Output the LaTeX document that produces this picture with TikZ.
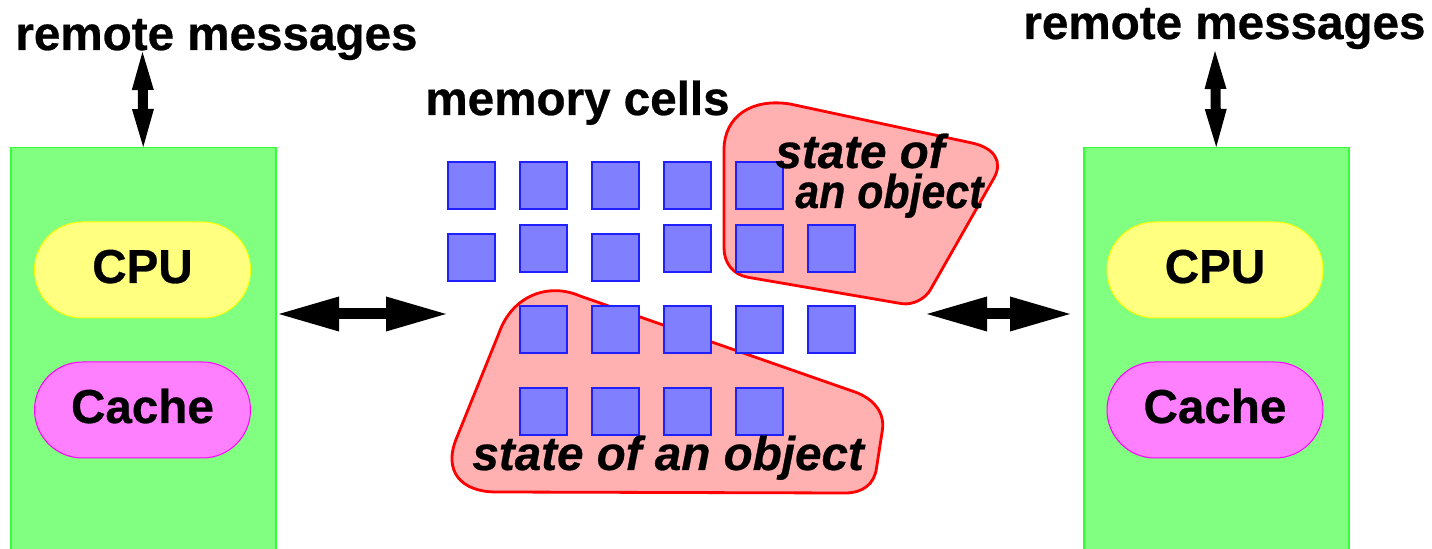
\documentclass[tikz,border=0pt]{standalone}
\usepackage{fontspec}
\setmainfont{Liberation Sans}[BoldFeatures={FakeBold=0.6}, BoldItalicFeatures={FakeBold=0.6}]
\usetikzlibrary{arrows.meta,calc}
\definecolor{boxfill}{HTML}{80FF80}
\definecolor{boxline}{HTML}{33FF33}
\definecolor{cpufill}{HTML}{FFFF80}
\definecolor{cpuline}{HTML}{FFFF00}
\definecolor{cachefill}{HTML}{FF80FF}
\definecolor{cacheline}{HTML}{FF00FF}
\definecolor{cellfill}{HTML}{8080FF}
\definecolor{cellline}{HTML}{2020FF}
\definecolor{blobfill}{HTML}{FFB0B0}
\definecolor{blobline}{HTML}{FF0000}
\begin{document}
\begin{tikzpicture}[x=0.5pt,y=-0.5pt,
  lbl/.style={font=\fontsize{23.8}{28}\selectfont\bfseries, inner sep=0pt, anchor=base west},
  ilbl/.style={lbl, font=\fontsize{23.8}{28}\selectfont\bfseries\itshape},
  procbox/.style={draw=boxline, fill=boxfill, line width=0.75pt, minimum width=132.5pt, minimum height=215pt, anchor=north west, inner sep=0pt},
  pill/.style={rectangle, rounded corners=24pt, minimum width=108pt, minimum height=48pt, line width=0.5pt, inner sep=0pt, text height=17pt, text depth=4pt, font=\fontsize{23.8}{28}\selectfont\bfseries},
  cpu/.style={pill, draw=cpuline, fill=cpufill},
  cache/.style={pill, draw=cacheline, fill=cachefill},
  cell/.style={draw=cellline, fill=cellfill, line width=0.9pt, minimum size=23.5pt, inner sep=0pt},
  blob/.style={draw=blobline, fill=blobfill, line width=1.4pt},
  harrow/.style={line width=5.5pt, {Triangle[length=30pt,width=17.5pt,line width=0pt]}-{Triangle[length=30pt,width=17.5pt,line width=0pt]}},
  varrow/.style={line width=5pt, {Triangle[length=19pt,width=11pt,line width=0pt]}-{Triangle[length=19pt,width=11pt,line width=0pt]}}]
\useasboundingbox (0,0) rectangle (1432,549);

% processor boxes
\node[procbox] (lbox) at (10,147) {};
\node[procbox] (rbox) at (1083,147) {};
\node[cpu] (lcpu) at (142.5,270) {CPU};
\node[cache] (lcache) at (142.5,410) {Cache};
\node[cpu] (rcpu) at (1215,270) {CPU};
\node[cache] (rcache) at (1215,410) {Cache};

% object blobs
\path[blob] (724,150) .. controls (724,116) and (752,98) .. (790,104)
  -- (972,143) .. controls (995,148) and (1003,162) .. (994,178)
  -- (930.6,289.4) .. controls (925.3,299.1) and (912.1,305.5) .. (901.3,303.6)
  -- (748,277.3) .. controls (733,274.7) and (724,263) .. (724,248)
  -- cycle;
\path[blob] (499,333) .. controls (512,296) and (548,282) .. (580,296)
  -- (855,392) .. controls (873,398.5) and (885,412) .. (882.4,430)
  -- (876.5,468) .. controls (874.4,484) and (863,493) .. (845,493)
  -- (496,492) .. controls (462,492) and (442,472) .. (457,437)
  -- cycle;

% memory cells
\foreach \x [count=\i] in {471.5,543.5,615.5,687.5,759.5}
  \node[cell] (a\i) at (\x,185.5) {};
\node[cell] (b1) at (471.5,257.5) {};
\node[cell] (b2) at (543.5,248.5) {};
\node[cell] (b3) at (615.5,257.5) {};
\node[cell] (b4) at (687.5,248.5) {};
\node[cell] (b5) at (759.5,248.5) {};
\node[cell] (b6) at (831.5,248.5) {};
\foreach \x [count=\i] in {543.5,615.5,687.5,759.5,831.5}
  \node[cell] (c\i) at (\x,329.5) {};
\foreach \x [count=\i] in {543.5,615.5,687.5,759.5}
  \node[cell] (d\i) at (\x,411.5) {};

% labels
\node[lbl] (lmsg) at (15,50) {remote messages};
\node[lbl] (rmsg) at (1023,39) {remote messages};
\node[lbl] (mem) at (425,115) {memory cells};
\node[ilbl] (obj1a) at (775,168) {state of};
\node[ilbl] (obj1b) at (795,208) {\scalebox{0.9}[1]{an object}};
\node[ilbl] (obj2) at (472,470) {state of an object};

% arrows
\coordinate (ltop) at (142.5,52);
\coordinate (rtop) at (1215,51);
\draw[varrow] (lbox.north) -- (ltop);
\draw[varrow] (rbox.north) -- (rtop);
\coordinate (lh1) at (279,314);
\coordinate (lh2) at (446,314);
\coordinate (rh1) at (927,314);
\coordinate (rh2) at (1070,314);
\draw[harrow] (lh1) -- (lh2);
\draw[harrow] (rh1) -- (rh2);
\end{tikzpicture}
\end{document}
